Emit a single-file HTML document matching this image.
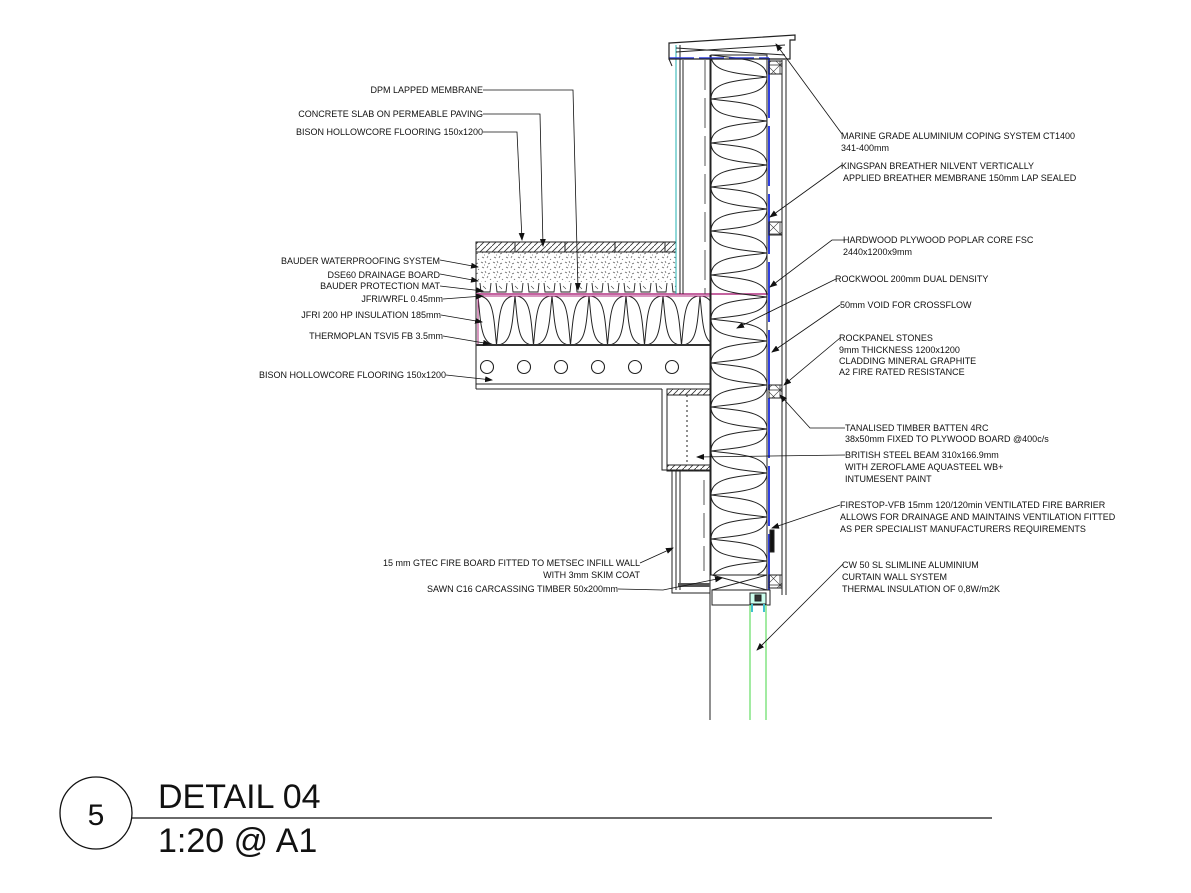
<!DOCTYPE html>
<html><head><meta charset="utf-8"><style>
html,body{margin:0;padding:0;background:#fff;}
svg{display:block;}
text{font-family:"Liberation Sans",sans-serif;fill:#111;}
.s{font-size:9px;}
</style></head><body>
<svg width="1191" height="893" viewBox="0 0 1191 893" xmlns="http://www.w3.org/2000/svg">
<defs>
<pattern id="wins" x="711" y="55" width="56" height="44" patternUnits="userSpaceOnUse">
<path d="M0,0 C30,4 56,4 56,22 C56,40 30,40 0,44 M56,-22 C26,-18 0,-18 0,0 C0,18 26,18 56,22 M56,22 C26,26 0,26 0,44 C0,62 26,62 56,66" fill="none" stroke="#222" stroke-width="1"/>
</pattern>
<pattern id="rins" x="478" y="296" width="37" height="49" patternUnits="userSpaceOnUse">
<path d="M0,0 C3,30 3,49 18.5,49 C34,49 34,30 37,0 M-18.5,49 C-15.5,19 -15.5,0 0,0 C15.5,0 15.5,19 18.5,49 M18.5,49 C21.5,19 21.5,0 37,0 C52.5,0 52.5,19 55.5,49" fill="none" stroke="#222" stroke-width="1"/>
</pattern>
<pattern id="hatch" width="6" height="6" patternUnits="userSpaceOnUse">
<path d="M0,6 L6,0" stroke="#333" stroke-width="0.8"/>
</pattern>
<pattern id="grav" width="12" height="10" patternUnits="userSpaceOnUse">
<path d="M1,2 l2,1 M5,1 l1,2 M8,4 l2,-1 M2,7 l2,1 M7,8 l1,-2 M10,9 l1,1 M4,5 l1,0" stroke="#666" stroke-width="0.8"/>
</pattern>
<pattern id="cups" x="478" y="282" width="16" height="12" patternUnits="userSpaceOnUse">
<path d="M2,1 L3,10 L12,10 L13,1" fill="none" stroke="#222" stroke-width="0.9"/>
<path d="M5,4 l3,3" stroke="#444" stroke-width="0.6"/>
</pattern>
<pattern id="xb" width="13" height="13" patternUnits="userSpaceOnUse">
<rect x="0" y="0" width="13" height="13" fill="none" stroke="#333" stroke-width="0.8"/>
<path d="M0,0 L13,13 M13,0 L0,13" stroke="#333" stroke-width="0.6"/>
</pattern>
<marker id="ar" markerWidth="8" markerHeight="6" refX="7" refY="3" orient="auto" markerUnits="userSpaceOnUse">
<path d="M0,0 L8,3 L0,6 z" fill="#111"/>
</marker>
</defs>

<g stroke="#222" fill="none" stroke-width="1">
<rect x="476" y="242" width="200" height="10" fill="url(#hatch)"/>
<path d="M515,242 v10 M565,242 v10 M615,242 v10 M665,242 v10"/>
<rect x="476" y="252" width="200" height="30" fill="url(#grav)" stroke="none"/>
<rect x="476" y="282" width="200" height="12" fill="url(#cups)" stroke="none"/>
<path d="M476,242 V389"/>
<rect x="478" y="296" width="232" height="49" fill="url(#rins)"/>
<rect x="478" y="296" width="232" height="49" stroke="#b03080" stroke-width="1"/>
<path d="M476,294 H770" stroke="#b03080" stroke-width="1.5"/>
<path d="M476,345 H710" stroke="#333" stroke-width="2"/>
<path d="M476,384 H710 M476,389 H662"/>
<g stroke-width="1.1">
<circle cx="487" cy="367" r="6.5"/><circle cx="524" cy="367" r="6.5"/><circle cx="561" cy="367" r="6.5"/>
<circle cx="598" cy="367" r="6.5"/><circle cx="635" cy="367" r="6.5"/><circle cx="672" cy="367" r="6.5"/>
</g>
</g>

<g stroke="#222" fill="none" stroke-width="1">
<path d="M676,45 V294" stroke="#20b0b0"/>
<path d="M680,45 V294 M683,60 V294" />
<path d="M705,60 V294" stroke="#555" stroke-dasharray="30,8"/>
<rect x="711" y="55" width="56" height="520" fill="url(#wins)"/>
<path d="M710,55 V720 M767,55 V590"/>
<path d="M769,58 V590" stroke="#3040e0" stroke-width="2" stroke-dasharray="60,8"/>
<path d="M669,58 H769" stroke="#3040e0" stroke-width="1.5" stroke-dasharray="25,5"/>
<path d="M782,60 V595 M786,60 V595"/>
<rect x="769" y="61" width="13" height="13" fill="url(#xb)"/>
<rect x="769" y="222" width="13" height="13" fill="url(#xb)"/>
<rect x="769" y="385" width="13" height="13" fill="url(#xb)"/>
<rect x="769" y="575" width="13" height="13" fill="url(#xb)"/>
<rect x="770" y="530" width="4" height="22" fill="#111"/>
<path d="M670,43 L795,35 L795,40 L790,40 L790,59 L669,59 L669,43 Z" stroke-width="1.2"/>
<path d="M676,52 L785,45 M676,48 L785,55"/>
<path d="M669,59 L672,66" />
<path d="M662,389 V470 H710 M667,389 V465 H710"/>
<rect x="667" y="389" width="43" height="6" fill="url(#hatch)"/>
<rect x="667" y="465" width="43" height="6" fill="url(#hatch)"/>
<path d="M687,395 V465" stroke-dasharray="2,3"/>
<path d="M672,470 V593 H710 M676,470 V590 M680,470 V590"/>
<path d="M704,480 v25 m0,8 v25 m0,8 v25" stroke="#555"/>
<rect x="678" y="583" width="32" height="4" fill="#555" stroke="none"/>
<path d="M712,575 L767,590 M712,590 L767,575"/>
<rect x="712" y="590" width="58" height="15"/>
<rect x="750" y="593" width="16" height="11" fill="#cfe" stroke="#222"/>
<rect x="755" y="595" width="6" height="6" fill="#333"/>
<path d="M752,604 v8 M764,604 v8" stroke="#40c0d0" stroke-width="2"/>
<path d="M750,605 V720 M766,605 V720" stroke="#70e070" stroke-width="1.3"/>
</g>

<g stroke="#111" fill="none" stroke-width="0.8">
<path d="M483,90 H573 L578,290" marker-end="url(#ar)"/>
<path d="M483,114 H540 L543,246" marker-end="url(#ar)"/>
<path d="M483,132 H517 L522,240" marker-end="url(#ar)"/>
<path d="M440,260 L478,267" marker-end="url(#ar)"/>
<path d="M440,274 L478,281" marker-end="url(#ar)"/>
<path d="M440,286 L483,291" marker-end="url(#ar)"/>
<path d="M443,299 L483,296" marker-end="url(#ar)"/>
<path d="M441,315 L482,322" marker-end="url(#ar)"/>
<path d="M443,336 L490,344" marker-end="url(#ar)"/>
<path d="M446,375 L492,380" marker-end="url(#ar)"/>
<path d="M640,563 L673,548" marker-end="url(#ar)"/>
<path d="M618,589 L663,590 L722,578" marker-end="url(#ar)"/>
<path d="M842,134 L776,44" marker-end="url(#ar)"/>
<path d="M842,165 L770,217" marker-end="url(#ar)"/>
<path d="M845,240 H832 L770,287" marker-end="url(#ar)"/>
<path d="M836,279 L737,328" marker-end="url(#ar)"/>
<path d="M840,305 L772,352" marker-end="url(#ar)"/>
<path d="M840,338 L784,385" marker-end="url(#ar)"/>
<path d="M845,428 H810 L780,395" marker-end="url(#ar)"/>
<path d="M845,455 L697,457" marker-end="url(#ar)"/>
<path d="M840,505 L772,528" marker-end="url(#ar)"/>
<path d="M843,564 L757,650" marker-end="url(#ar)"/>
</g>

<g class="s" text-anchor="end">
<text x="483" y="93">DPM LAPPED MEMBRANE</text>
<text x="483" y="117">CONCRETE SLAB ON PERMEABLE PAVING</text>
<text x="483" y="135">BISON HOLLOWCORE FLOORING 150x1200</text>
<text x="440" y="264">BAUDER WATERPROOFING SYSTEM</text>
<text x="440" y="278">DSE60 DRAINAGE BOARD</text>
<text x="440" y="289">BAUDER PROTECTION MAT</text>
<text x="443" y="302">JFRI/WRFL 0.45mm</text>
<text x="441" y="318">JFRI 200 HP INSULATION 185mm</text>
<text x="443" y="339">THERMOPLAN TSVI5 FB 3.5mm</text>
<text x="446" y="378">BISON HOLLOWCORE FLOORING 150x1200</text>
<text x="640" y="566">15 mm GTEC FIRE BOARD FITTED TO METSEC INFILL WALL</text>
<text x="640" y="578">WITH 3mm SKIM COAT</text>
<text x="618" y="592">SAWN C16 CARCASSING TIMBER 50x200mm</text>
</g>
<g class="s">
<text x="841" y="139">MARINE GRADE ALUMINIUM COPING SYSTEM CT1400</text>
<text x="841" y="151">341-400mm</text>
<text x="841" y="169">KINGSPAN BREATHER NILVENT VERTICALLY</text>
<text x="843" y="181">APPLIED BREATHER MEMBRANE 150mm LAP SEALED</text>
<text x="843" y="243">HARDWOOD PLYWOOD POPLAR CORE FSC</text>
<text x="843" y="255">2440x1200x9mm</text>
<text x="835" y="282">ROCKWOOL 200mm DUAL DENSITY</text>
<text x="840" y="308">50mm VOID FOR CROSSFLOW</text>
<text x="839" y="341">ROCKPANEL STONES</text>
<text x="839" y="353">9mm THICKNESS 1200x1200</text>
<text x="839" y="364">CLADDING  MINERAL GRAPHITE</text>
<text x="839" y="375">A2 FIRE RATED RESISTANCE</text>
<text x="845" y="431">TANALISED TIMBER BATTEN 4RC</text>
<text x="845" y="442">38x50mm FIXED TO PLYWOOD BOARD @400c/s</text>
<text x="845" y="458">BRITISH STEEL BEAM 310x166.9mm</text>
<text x="845" y="470">WITH ZEROFLAME AQUASTEEL WB+</text>
<text x="845" y="482">INTUMESENT PAINT</text>
<text x="840" y="508">FIRESTOP-VFB 15mm 120/120min VENTILATED FIRE BARRIER</text>
<text x="840" y="520">ALLOWS FOR DRAINAGE AND MAINTAINS VENTILATION FITTED</text>
<text x="840" y="532">AS PER SPECIALIST MANUFACTURERS REQUIREMENTS</text>
<text x="842" y="568">CW 50 SL SLIMLINE ALUMINIUM</text>
<text x="842" y="580">CURTAIN WALL SYSTEM</text>
<text x="842" y="592">THERMAL INSULATION OF 0,8W/m2K</text>
</g>

<circle cx="96" cy="813" r="36" fill="none" stroke="#111" stroke-width="1.3"/>
<text x="96" y="825" text-anchor="middle" style="font-size:30px">5</text>
<path d="M131,818 H992" stroke="#111" stroke-width="1.3"/>
<text x="158" y="808" style="font-size:34px">DETAIL 04</text>
<text x="158" y="852" style="font-size:34px">1:20 @ A1</text>
</svg>
</body></html>
